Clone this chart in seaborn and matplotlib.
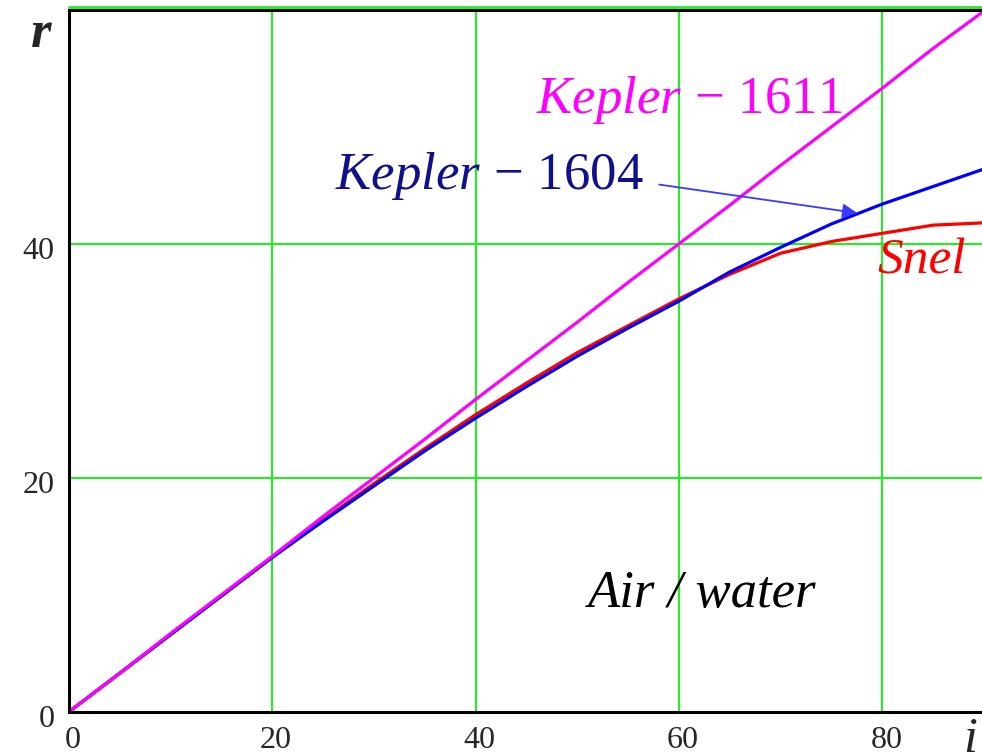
import numpy as np
import pandas as pd
import matplotlib
matplotlib.use("Agg")
import matplotlib.pyplot as plt
import matplotlib.transforms as mtransforms
import seaborn as sns

# Angle of incidence i (deg) and refraction angle r (deg)
incidence = [0, 5, 10, 15, 20, 25, 30, 35, 40, 45, 50, 55, 60, 65, 70, 75, 80, 85, 90]
kepler_1611 = [0, 3.3, 6.7, 10.0, 13.3, 16.7, 20.0, 23.3, 26.7, 30.0, 33.3, 36.7,
               40.0, 43.3, 46.7, 50.0, 53.3, 56.7, 59.9]
kepler_1604 = [0, 3.3, 6.6, 9.9, 13.2, 16.3, 19.3, 22.3, 25.1, 27.8, 30.4, 32.8,
               35.1, 37.6, 39.7, 41.7, 43.4, 44.9, 46.4]
snel = [0, 3.3, 6.6, 9.9, 13.2, 16.4, 19.5, 22.5, 25.4, 28.1, 30.7, 33.0,
        35.3, 37.4, 39.2, 40.2, 40.9, 41.6, 41.8]

x_ticks = [0, 20, 40, 60, 80]
y_ticks = [0, 20, 40]

sns.set_style("white")
plt.rcParams["font.family"] = ["Liberation Serif", "DejaVu Serif"]
plt.rcParams.update({
    "mathtext.fontset": "custom",
    "mathtext.rm": "Liberation Serif",
    "mathtext.it": "Liberation Serif:italic",
    "mathtext.bf": "Liberation Serif:bold",
})

df = pd.DataFrame({"i": incidence, "k1611": kepler_1611,
                   "k1604": kepler_1604, "snel": snel})

fig = plt.figure(figsize=(9.82, 7.55), dpi=100)
ax = fig.add_axes([0.070, 0.057, 0.932, 0.930])

# green grid
for gx in [20, 40, 60, 80]:
    ax.axvline(gx, color="#22ee22", linewidth=1.5, zorder=0)
for gy in [20, 40]:
    ax.axhline(gy, color="#22ee22", linewidth=1.5, zorder=0)
# the top grid line sits just above the frame
top_shift = ax.get_yaxis_transform() + mtransforms.ScaledTranslation(
    0, 3 / 100, fig.dpi_scale_trans)
ax.plot([0, 1], [60, 60], color="#22ee22", linewidth=2.0, zorder=0,
        clip_on=False, transform=top_shift)

sns.lineplot(data=df, x="i", y="snel", color="#ff0000", linewidth=2.3, ax=ax)
sns.lineplot(data=df, x="i", y="k1604", color="#0000ff", linewidth=2.3, ax=ax)
sns.lineplot(data=df, x="i", y="k1611", color="#ff00ff", linewidth=2.3, ax=ax)

ax.set_xlim(0, 90)
ax.set_ylim(0, 60)
ax.set_xticks(x_ticks)
ax.set_yticks(y_ticks)
ax.set_xlabel("")
ax.set_ylabel("")
ax.tick_params(axis="x", length=0, pad=10, labelsize=23)
ax.tick_params(axis="y", length=0, pad=10, labelsize=23)

# nudge tick labels like the original
dx = mtransforms.ScaledTranslation(4 / 100, 0, fig.dpi_scale_trans)
dy = mtransforms.ScaledTranslation(0, -4 / 100, fig.dpi_scale_trans)
for lbl in ax.get_xticklabels():
    lbl.set_transform(lbl.get_transform() + dx)
for lbl in ax.get_yticklabels():
    lbl.set_transform(lbl.get_transform() + dy)

for side in ["left", "bottom", "top"]:
    ax.spines[side].set_color("black")
    ax.spines[side].set_linewidth(2.2)
ax.spines["right"].set_visible(False)

# axis names
fig.text(0.031, 0.987, "r", fontsize=38, fontweight="bold", fontstyle="italic",
         ha="left", va="top")
fig.text(0.988, 0.004, "i", fontsize=36, fontstyle="italic", ha="center",
         va="baseline")

# curve labels
ax.text(45.9, 51.15, r"$Kepler\,-\,1611$", color="#ff00ff", fontsize=38,
        ha="left", va="baseline")
ax.text(26.2, 44.7, r"$Kepler\,-\,1604$", color="#10108c", fontsize=38,
        ha="left", va="baseline")
ax.text(79.5, 37.5, "Snel", color="#ff0000", fontsize=37, fontstyle="italic",
        ha="left", va="baseline")
ax.text(51.1, 9.0, "Air / water", color="black", fontsize=38, fontstyle="italic",
        ha="left", va="baseline")

ax.annotate("", xy=(77.8, 42.6), xytext=(57.8, 45.1),
            arrowprops=dict(arrowstyle="-|>", color="#3a3aff", linewidth=1.3,
                            mutation_scale=22))

plt.savefig("out.png", dpi=100)
plt.close()
